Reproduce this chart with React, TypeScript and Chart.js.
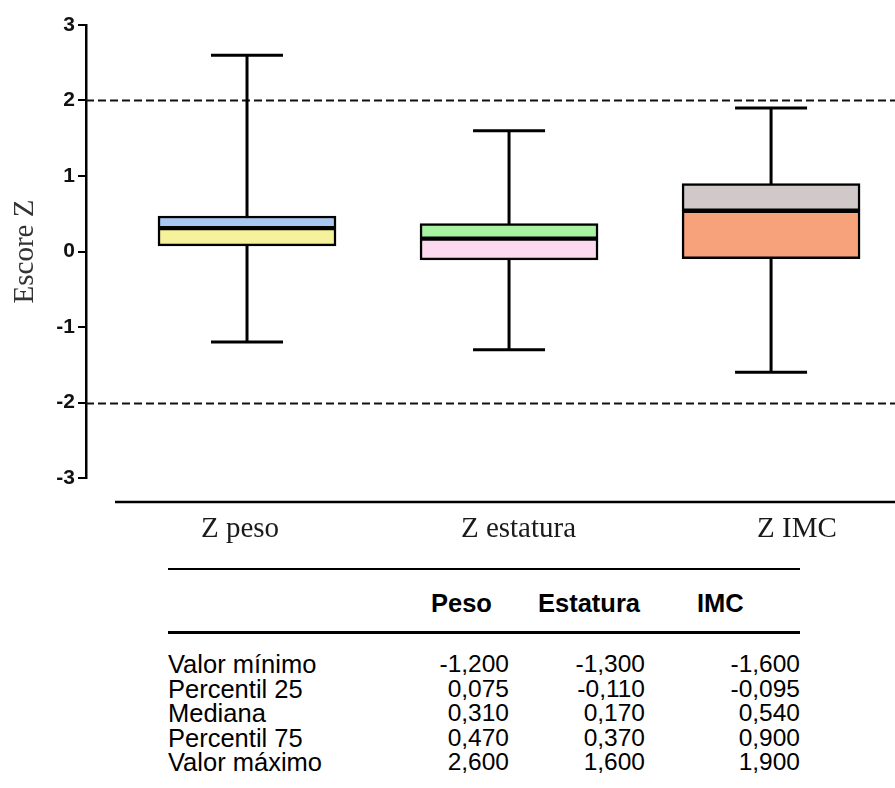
import React, { useEffect, useRef } from "react";
import { Chart, registerables } from "chart.js";

Chart.register(...registerables);

// Summary statistics of the Z scores
const groups = ["Z peso", "Z estatura", "Z IMC"];
const minimo = [-1.2, -1.3, -1.6];
const p25 = [0.075, -0.11, -0.095];
const mediana = [0.31, 0.17, 0.54];
const p75 = [0.47, 0.37, 0.9];
const maximo = [2.6, 1.6, 1.9];

const yTicks = [-3, -2, -1, 0, 1, 2, 3];
const limits = [2, -2];

const tableHeaders = ["Peso", "Estatura", "IMC"];
const rowLabels = ["Valor mínimo", "Percentil 25", "Mediana", "Percentil 75", "Valor máximo"];
const rowSeries = [minimo, p25, mediana, p75, maximo];

const lowerColors = ["#f6f29c", "#fcd9ee", "#f8a27c"];
const upperColors = ["#a6c8f3", "#a8f2a2", "#d1c9c9"];

const W = 895;
const H = 560;

const fmt = (v: number) => v.toFixed(3).replace(".", ",");

// whiskers and dashed limit lines, drawn beneath the boxes
const whiskerPlugin = {
  id: "whiskers",
  beforeDatasetsDraw(chart: any) {
    const { ctx, chartArea } = chart;
    const xs = chart.scales.xBox;
    const ys = chart.scales.y;
    ctx.save();
    ctx.strokeStyle = "#111";
    ctx.lineWidth = 2;
    ctx.setLineDash([8, 4]);
    limits.forEach((v) => {
      const y = Math.round(ys.getPixelForValue(v)) + 0.5;
      ctx.beginPath();
      ctx.moveTo(chartArea.left, y);
      ctx.lineTo(chartArea.right, y);
      ctx.stroke();
    });
    ctx.setLineDash([]);
    ctx.lineWidth = 3;
    ctx.strokeStyle = "#000";
    groups.forEach((_, i) => {
      const x = xs.getPixelForValue(i);
      const yMin = ys.getPixelForValue(minimo[i]);
      const yMax = ys.getPixelForValue(maximo[i]);
      ctx.beginPath();
      ctx.moveTo(x, yMin);
      ctx.lineTo(x, yMax);
      ctx.moveTo(x - 36, yMin);
      ctx.lineTo(x + 36, yMin);
      ctx.moveTo(x - 36, yMax);
      ctx.lineTo(x + 36, yMax);
      ctx.stroke();
    });
    ctx.restore();
  },
  afterDraw(chart: any) {
    const { ctx, chartArea } = chart;
    ctx.save();
    ctx.strokeStyle = "#000";
    ctx.lineWidth = 2.5;
    const y = chartArea.bottom + 24;
    ctx.beginPath();
    ctx.moveTo(chartArea.left + 29, y);
    ctx.lineTo(chartArea.right, y);
    ctx.stroke();
    ctx.restore();
  },
};

function BoxChart() {
  const ref = useRef<HTMLCanvasElement>(null);
  useEffect(() => {
    if (!ref.current) return;
    const boxData = (lo: number[], hi: number[]) =>
      groups.map((_, i) => ({ x: i, y: [lo[i], hi[i]] }));
    const chart = new Chart(ref.current, {
      type: "bar",
      data: {
        datasets: [
          {
            label: "P25–Mediana",
            data: boxData(p25, mediana) as any,
            xAxisID: "xBox",
            backgroundColor: lowerColors,
            borderColor: "#000",
            borderWidth: 2.5,
            borderSkipped: false,
            barThickness: 178,
            grouped: false,
          },
          {
            label: "Mediana–P75",
            data: boxData(mediana, p75) as any,
            xAxisID: "xBox",
            backgroundColor: upperColors,
            borderColor: "#000",
            borderWidth: 2.5,
            borderSkipped: false,
            barThickness: 178,
            grouped: false,
          },
        ],
      },
      options: {
        responsive: false,
        animation: false,
        devicePixelRatio: 1,
        layout: { padding: { top: 25, left: 0, right: 0, bottom: 0 } },
        plugins: { legend: { display: false }, tooltip: { enabled: false } },
        scales: {
          xBox: {
            type: "linear",
            display: false,
            offset: false,
            grid: { offset: false },
            min: -0.6145,
            max: 2.473,
          },
          x: {
            type: "linear",
            position: "bottom",
            offset: false,
            min: -0.553,
            max: 2.352,
            afterBuildTicks: (s: any) => {
              s.ticks = groups.map((_, i) => ({ value: i }));
            },
            afterFit: (s: any) => {
              s.height = H - 478;
            },
            ticks: {
              autoSkip: false,
              maxRotation: 0,
              padding: 34,
              color: "#1a1a1a",
              font: { family: "'Liberation Serif', serif", size: 29 },
              callback: (v: any) => groups[v as number] ?? "",
            },
            grid: { display: false, drawTicks: false, offset: false },
            border: { display: false },
          },
          y: {
            type: "linear",
            min: -3,
            max: 3,
            afterBuildTicks: (s: any) => {
              s.ticks = yTicks.map((v) => ({ value: v }));
            },
            afterFit: (s: any) => {
              s.width = 86;
            },
            ticks: {
              padding: 3,
              color: "#111",
              font: { family: "'Liberation Sans', Arial, sans-serif", size: 21, weight: "bold" },
              callback: (v: any) => String(v),
            },
            grid: { drawOnChartArea: false, color: "#000", lineWidth: 2, tickLength: 8 },
            border: { color: "#000", width: 2.5 },
            title: {
              display: true,
              text: "Escore Z",
              color: "#333",
              font: { family: "'Liberation Serif', serif", size: 29 },
              padding: { top: 8, bottom: 0 },
            },
          },
        },
      },
      plugins: [whiskerPlugin],
    } as any);
    return () => chart.destroy();
  }, []);
  return <canvas ref={ref} width={W} height={H} style={{ display: "block" }} />;
}

const tableFont = "'Liberation Sans', Arial, sans-serif";
const valueRight = [509, 645, 800];
const headerLeft = [431, 538, 697];

function StatsTable() {
  const rule = (top: number, h: number) => (
    <div style={{ position: "absolute", left: 168, width: 632, top, height: h, background: "#000" }} />
  );
  const text = (content: string, style: React.CSSProperties, key: string) => (
    <div
      key={key}
      style={{
        position: "absolute",
        fontFamily: tableFont,
        fontSize: 24.5,
        lineHeight: "24px",
        color: "#000",
        whiteSpace: "nowrap",
        ...style,
      }}
    >
      {content}
    </div>
  );
  return (
    <>
      {rule(568, 2)}
      {tableHeaders.map((h, c) =>
        text(h, { left: headerLeft[c], top: 591, fontWeight: "bold", fontSize: 25.5 }, "h" + c)
      )}
      {rule(631, 3)}
      {rowLabels.map((lab, r) => text(lab, { left: 168, top: 652 + r * 24.5, fontSize: 25.5 }, "l" + r))}
      {rowSeries.map((series, r) =>
        series.map((v, c) =>
          text(fmt(v), { right: W - valueRight[c], top: 652 + r * 24.5, textAlign: "right" }, `v${r}-${c}`)
        )
      )}
    </>
  );
}

export default function App() {
  return (
    <div style={{ position: "absolute", left: 0, top: 0, width: W, height: 788, background: "#fff", overflow: "hidden" }}>
      <BoxChart />
      <StatsTable />
    </div>
  );
}
